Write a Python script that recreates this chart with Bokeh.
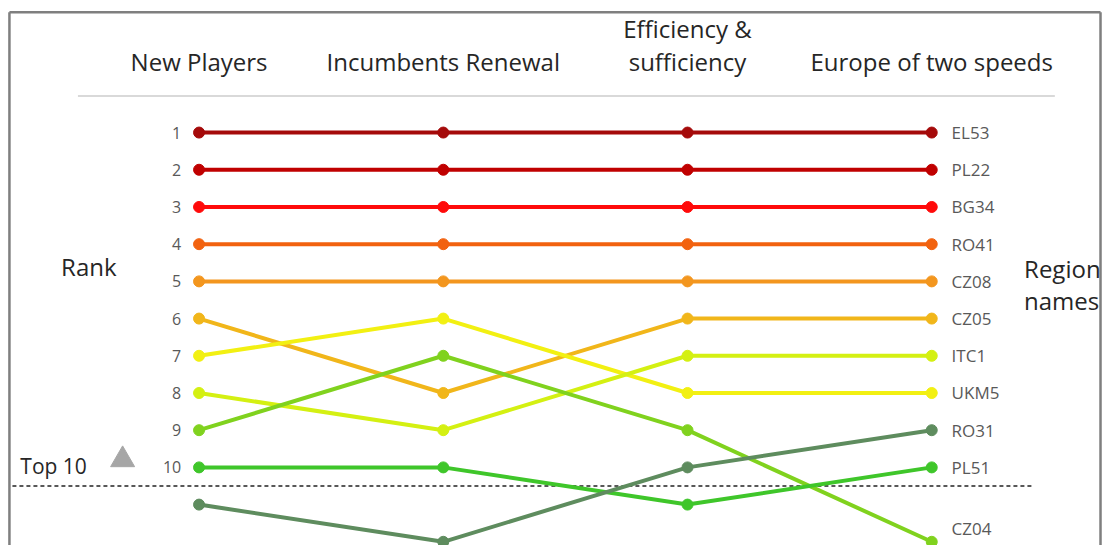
from bokeh.plotting import figure
from bokeh.models import Range1d, Label
from bokeh.core.properties import value
from bokeh.embed import file_html
from bokeh.resources import INLINE

# ---------------- data ----------------
scenarios = ["New Players", "Incumbents Renewal", "Efficiency &\nsufficiency", "Europe of two speeds"]
regions = ["EL53", "PL22", "BG34", "RO41", "CZ08", "CZ05", "UKM5", "ITC1", "CZ04", "PL51", "RO31"]
rank_EL53 = [1, 1, 1, 1]
rank_PL22 = [2, 2, 2, 2]
rank_BG34 = [3, 3, 3, 3]
rank_RO41 = [4, 4, 4, 4]
rank_CZ08 = [5, 5, 5, 5]
rank_CZ05 = [6, 8, 6, 6]
rank_UKM5 = [7, 6, 8, 8]
rank_ITC1 = [8, 9, 7, 7]
rank_CZ04 = [9, 7, 9, 12]
rank_PL51 = [10, 10, 11, 10]
rank_RO31 = [11, 12, 10, 9]
rank_ticks = [1, 2, 3, 4, 5, 6, 7, 8, 9, 10]
top_n = 10

ranks = [rank_EL53, rank_PL22, rank_BG34, rank_RO41, rank_CZ08, rank_CZ05,
         rank_UKM5, rank_ITC1, rank_CZ04, rank_PL51, rank_RO31]
colors = ["#a50a0a", "#c00000", "#ff0a0a", "#f2620f", "#f3961e", "#f1b61a",
          "#f2f012", "#d4f012", "#80d21e", "#3fc62a", "#5e8c5e"]

# ---------------- layout ----------------
W, H = 1102, 545
RW, RH = 1110, 553  # reference picture size (positions below are given in it)
SX, SY = W / RW, H / RH
X0, DX = 200, 246    # ref px of first scenario, spacing
Y1, DY = 134, 37.75  # ref px of rank 1, spacing


def dx(px):
    return (px - X0) / DX


def dy(py):
    return 1 + (py - Y1) / DY


p = figure(width=W, height=H, output_backend="svg", toolbar_location=None,
           x_range=Range1d(dx(0), dx(W / SX)),
           y_range=Range1d(dy(H / SY), dy(0)),
           min_border=0, outline_line_color=None)
p.axis.visible = False
p.grid.visible = False
p.background_fill_color = "white"
p.border_fill_color = "white"

FONT = value("Open Sans")
HEAD = "24px"
DARK = "#262626"

# frame border (left, top, right)
p.multi_line(xs=[[dx(9), dx(9)], [dx(9), dx(1108)], [dx(1108), dx(1108)]],
             ys=[[dy(600), dy(12)], [dy(12), dy(12)], [dy(12), dy(600)]],
             line_color="#7f7f7f", line_width=2.5)

# separator under headers
p.line([dx(78), dx(1062)], [dy(97), dy(97)], line_color="#d9d9d9", line_width=2)

# top-n dashed line
p.line([dx(12), dx(1040)], [top_n + 0.5, top_n + 0.5], line_color="#222222",
       line_width=1.5, line_dash="4 3")

xs = list(range(len(scenarios)))
for r, c in zip(ranks, colors):
    p.line(xs, r, line_color=c, line_width=4)
    p.scatter(xs, r, size=11, fill_color=c, line_color=c)

# headers
for i, s in enumerate(scenarios):
    lines = s.split("\n")
    ys = [dy(62)] if len(lines) == 1 else [dy(28), dy(62)]
    for t, yy in zip(lines, ys):
        p.add_layout(Label(x=i, y=yy, text=t, text_align="center", text_baseline="middle",
                           text_font="Open Sans", text_font_size=HEAD, text_color=DARK))

# rank numbers
p.text(x=[dx(182)] * len(rank_ticks), y=rank_ticks, text=[str(t) for t in rank_ticks],
       text_align="right", text_baseline="middle", text_font=FONT,
       text_font_size="16px", text_color="#595959")

# region names at the right end (kept inside the picture)
last = len(scenarios) - 1
y_max = dy(H / SY - 17)
p.text(x=[last + dx(958) - dx(938)] * len(regions), y=[min(r[-1], y_max) for r in ranks],
       text=regions, text_align="left", text_baseline="middle", text_font=FONT,
       text_font_size="17px", text_color="#595959")

# side titles
p.add_layout(Label(x=dx(89), y=dy(270), text="Rank", text_align="center", text_baseline="middle",
                   text_font="Open Sans", text_font_size=HEAD, text_color=DARK))
p.add_layout(Label(x=dx(1031), y=dy(272), text="Region", text_align="left", text_baseline="middle",
                   text_font="Open Sans", text_font_size=HEAD, text_color=DARK))
p.add_layout(Label(x=dx(1031), y=dy(304), text="names", text_align="left", text_baseline="middle",
                   text_font="Open Sans", text_font_size=HEAD, text_color=DARK))

# Top 10 marker
p.add_layout(Label(x=dx(20), y=dy(472), text="Top 10", text_align="left", text_baseline="middle",
                   text_font="Open Sans", text_font_size="21px", text_color=DARK))
p.scatter([dx(123)], [dy(466)], marker="triangle", size=24, fill_color="#a6a6a6",
          line_color="#a6a6a6")

open("out.html", "w").write(file_html(p, INLINE))
